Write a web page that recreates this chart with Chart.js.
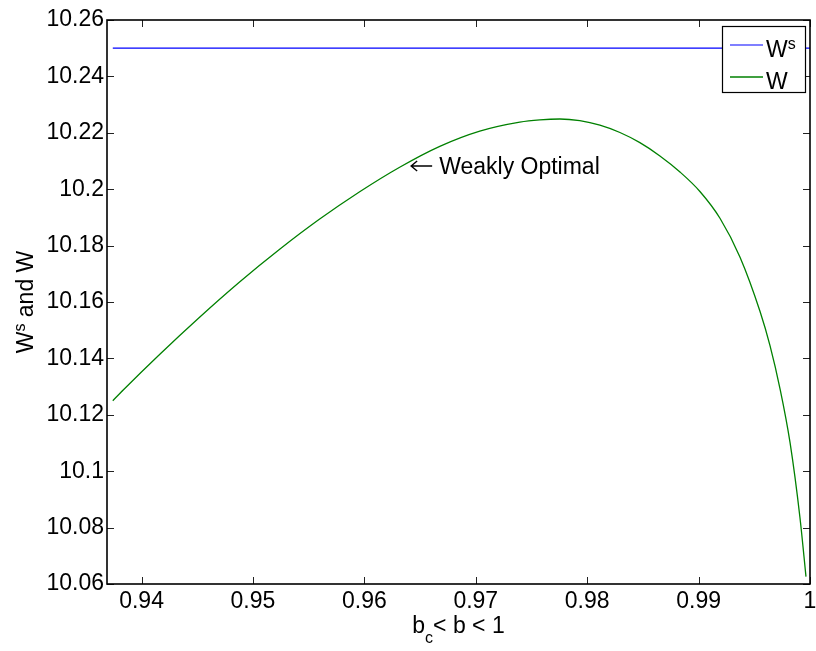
<!DOCTYPE html>
<html lang="en">
<head>
    <meta charset="UTF-8">
    <title>Ws and W</title>
    <style>
        body {
            margin: 0;
            padding: 0;
            background-color: white;
        }
        canvas {
            display: block;
        }
    </style>
    <script src="https://cdn.jsdelivr.net/npm/chart.js"></script>
</head>
<body>
    <canvas id="welfareChart" width="816" height="651"></canvas>

    <script>
        // W over b_c < b < 1
        const bValues = [0.93742, 0.93838, 0.94162, 0.94521, 0.94880, 0.95240, 0.95599, 0.95958,
                         0.96317, 0.96677, 0.97036, 0.97395, 0.97575, 0.97755, 0.97934, 0.98114,
                         0.98294, 0.98473, 0.98653, 0.98833, 0.99012, 0.99192, 0.99372, 0.99551,
                         0.99641, 0.99731, 0.99821, 0.99910, 0.99964];
        const wValues = [10.1250, 10.1289, 10.1414, 10.1546, 10.1671, 10.1787, 10.1894, 10.1991,
                         10.2078, 10.2152, 10.2206, 10.2238, 10.2246, 10.2249, 10.2243, 10.2227,
                         10.2201, 10.2165, 10.2118, 10.2061, 10.1992, 10.1897, 10.1759, 10.1567,
                         10.1445, 10.1292, 10.1101, 10.0835, 10.0626];

        // Ws is flat
        const wsB = [0.93742, 1.0];
        const wsValues = [10.25, 10.25];

        const xTicks = [0.94, 0.95, 0.96, 0.97, 0.98, 0.99, 1];
        const yTicks = [10.06, 10.08, 10.1, 10.12, 10.14, 10.16, 10.18, 10.2, 10.22, 10.24, 10.26];

        const noteB = 0.9642;
        const noteW = 10.2093;
        const noteText = 'Weakly Optimal';

        const FONT = '"Liberation Sans", Arial, Helvetica, sans-serif';
        const INK = '#000';

        function toPoints(xs, ys) {
            return xs.map((x, i) => ({ x: x, y: ys[i] }));
        }

        // draws "base" then a raised/lowered smaller piece, then the rest
        function drawScripted(ctx, x, y, base, script, rest, shift) {
            ctx.font = '23px ' + FONT;
            ctx.fillText(base, x, y);
            x += ctx.measureText(base).width;
            ctx.font = '16px ' + FONT;
            ctx.fillText(script, x, y + shift);
            x += ctx.measureText(script).width;
            ctx.font = '23px ' + FONT;
            ctx.fillText(rest, x, y);
        }

        function scriptedWidth(ctx, base, script, rest) {
            ctx.font = '23px ' + FONT;
            let w = ctx.measureText(base).width + ctx.measureText(rest).width;
            ctx.font = '16px ' + FONT;
            return w + ctx.measureText(script).width;
        }

        const frame = {
            id: 'frame',
            afterDatasetsDraw(chart) {
                const ctx = chart.ctx;
                const a = chart.chartArea;
                const xs = chart.scales.x;
                const ys = chart.scales.y;
                ctx.save();

                // inward ticks on all four sides
                ctx.strokeStyle = '#222';
                ctx.lineWidth = 1;
                ctx.beginPath();
                xTicks.forEach(v => {
                    const px = Math.round(xs.getPixelForValue(v)) + 0.5;
                    ctx.moveTo(px, a.bottom); ctx.lineTo(px, a.bottom - 7);
                    ctx.moveTo(px, a.top); ctx.lineTo(px, a.top + 7);
                });
                yTicks.forEach(v => {
                    const py = Math.round(ys.getPixelForValue(v)) + 0.5;
                    ctx.moveTo(a.left, py); ctx.lineTo(a.left + 7, py);
                    ctx.moveTo(a.right, py); ctx.lineTo(a.right - 7, py);
                });
                ctx.stroke();

                // box
                ctx.strokeStyle = '#000';
                ctx.lineWidth = 1.6;
                ctx.strokeRect(a.left, a.top, a.right - a.left, a.bottom - a.top);

                // annotation: left arrow then the label
                const nx = xs.getPixelForValue(noteB);
                const ny = ys.getPixelForValue(noteW) + 3;
                ctx.strokeStyle = INK;
                ctx.lineWidth = 1.4;
                ctx.beginPath();
                ctx.moveTo(nx, ny); ctx.lineTo(nx + 21, ny);
                ctx.moveTo(nx + 6, ny - 5); ctx.lineTo(nx, ny); ctx.lineTo(nx + 6, ny + 5);
                ctx.stroke();
                ctx.fillStyle = INK;
                ctx.font = '23px ' + FONT;
                ctx.textAlign = 'left';
                ctx.textBaseline = 'alphabetic';
                ctx.fillText(noteText, nx + 28, ny + 8);

                // legend
                const lx = 722.5, ly = 26.5, lw = 83, lh = 66;
                ctx.fillStyle = 'white';
                ctx.fillRect(lx, ly, lw, lh);
                ctx.strokeStyle = '#000';
                ctx.lineWidth = 1.2;
                ctx.strokeRect(lx, ly, lw, lh);
                const rows = [
                    { ds: chart.data.datasets[0], y: 45, script: 's' },
                    { ds: chart.data.datasets[1], y: 77, script: '' }
                ];
                rows.forEach(r => {
                    ctx.strokeStyle = r.ds.borderColor;
                    ctx.lineWidth = r.ds.borderWidth;
                    ctx.beginPath();
                    ctx.moveTo(730, r.y);
                    ctx.lineTo(763, r.y);
                    ctx.stroke();
                    ctx.fillStyle = INK;
                    drawScripted(ctx, 766, r.y + 11.5, 'W', r.script, '', -8);
                });

                // x title: b_c < b < 1
                const cx = (a.left + a.right) / 2;
                const tw = scriptedWidth(ctx, 'b', 'c', '< b < 1');
                drawScripted(ctx, cx - tw / 2, 633, 'b', 'c', '< b < 1', 10);

                // y title: W^s and W
                ctx.translate(33, (a.top + a.bottom) / 2);
                ctx.rotate(-Math.PI / 2);
                const yw = scriptedWidth(ctx, 'W', 's', ' and W');
                drawScripted(ctx, -yw / 2, 0, 'W', 's', ' and W', -8);

                ctx.restore();
            }
        };

        new Chart(document.getElementById('welfareChart'), {
            type: 'line',
            data: {
                datasets: [
                    {
                        label: 'Ws',
                        data: toPoints(wsB, wsValues),
                        borderColor: '#0000ff',
                        borderWidth: 1.2,
                        pointRadius: 0,
                        fill: false
                    },
                    {
                        label: 'W',
                        data: toPoints(bValues, wValues),
                        borderColor: '#008000',
                        borderWidth: 1.3,
                        pointRadius: 0,
                        cubicInterpolationMode: 'monotone',
                        fill: false
                    }
                ]
            },
            options: {
                responsive: false,
                animation: false,
                layout: {
                    padding: { top: 20, right: 6, left: 0, bottom: 0 }
                },
                scales: {
                    x: {
                        type: 'linear',
                        min: 0.9369,
                        max: 1,
                        grid: { display: false, drawTicks: false },
                        border: { display: false },
                        afterBuildTicks: s => { s.ticks = xTicks.map(v => ({ value: v })); },
                        afterFit: s => { s.height = 67; s.paddingLeft = 0; s.paddingRight = 0; },
                        ticks: {
                            autoSkip: false,
                            maxRotation: 0,
                            padding: 4,
                            color: INK,
                            font: { family: FONT, size: 23 },
                            callback: v => String(v)
                        }
                    },
                    y: {
                        min: 10.06,
                        max: 10.26,
                        grid: { display: false, drawTicks: false },
                        border: { display: false },
                        afterBuildTicks: s => { s.ticks = yTicks.map(v => ({ value: v })); },
                        afterFit: s => { s.width = 107; s.paddingTop = 0; s.paddingBottom = 0; },
                        ticks: {
                            autoSkip: false,
                            padding: 3,
                            color: INK,
                            font: { family: FONT, size: 23 },
                            callback: v => String(+v.toFixed(2))
                        }
                    }
                },
                plugins: {
                    legend: { display: false },
                    tooltip: { enabled: false }
                }
            },
            plugins: [frame]
        });
    </script>
</body>
</html>
